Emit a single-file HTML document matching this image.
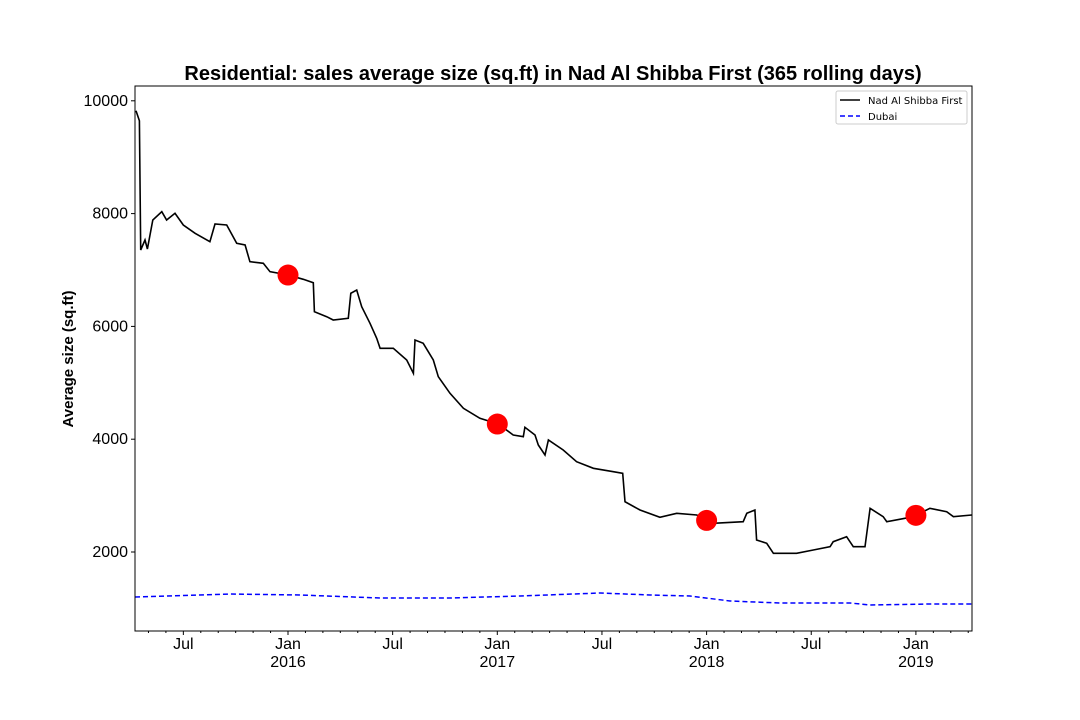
<!DOCTYPE html>
<html><head><meta charset="utf-8"><style>
body{margin:0;background:#fff;}
svg{display:block;font-family:"Liberation Sans","DejaVu Sans",sans-serif;}
</style></head><body>
<svg id="chart" width="1080" height="720">
<rect width="1080" height="720" fill="#fff"/>
<text x="553" y="80" text-anchor="middle" font-size="20" font-weight="bold">Residential: sales average size (sq.ft) in Nad Al Shibba First (365 rolling days)</text>
<text transform="translate(73,359) rotate(-90)" text-anchor="middle" font-size="15" font-weight="bold">Average size (sq.ft)</text>
<g id="axes"></g>
<g id="series"></g>
<rect x="135" y="86" width="837" height="545" fill="none" stroke="#000" stroke-width="1"/>
<g font-family="DejaVu Sans, sans-serif">
<rect x="836" y="91" width="131" height="33" rx="2" fill="#fff" stroke="#ccc"/>
<line x1="840" y1="100" x2="860" y2="100" stroke="#000" stroke-width="1.5"/>
<text x="868" y="104" font-size="10">Nad Al Shibba First</text>
<line x1="840" y1="116" x2="860" y2="116" stroke="#00f" stroke-width="1.5" stroke-dasharray="5,3"/>
<text x="868" y="120" font-size="10">Dubai</text>
</g>
</svg>
<script>
const areaYears=[2015.274,2015.290,2015.296,2015.317,2015.328,2015.354,2015.397,2015.420,2015.460,2015.500,2015.556,2015.627,2015.651,2015.707,2015.755,2015.795,2015.818,2015.882,2015.914,2016.001,2016.073,2016.121,2016.126,2016.185,2016.216,2016.288,2016.300,2016.328,2016.352,2016.392,2016.424,2016.440,2016.503,2016.567,2016.599,2016.607,2016.646,2016.694,2016.718,2016.774,2016.838,2016.917,2017.005,2017.076,2017.124,2017.132,2017.180,2017.196,2017.228,2017.244,2017.315,2017.379,2017.459,2017.554,2017.599,2017.610,2017.682,2017.777,2017.857,2017.953,2018.032,2018.175,2018.192,2018.231,2018.239,2018.287,2018.319,2018.430,2018.510,2018.590,2018.605,2018.669,2018.701,2018.757,2018.781,2018.844,2018.861,2018.988,2019.067,2019.147,2019.179,2019.267];
const areaValues=[9824,9647,7354,7532,7372,7886,8034,7886,8005,7798,7650,7502,7815,7798,7473,7443,7147,7119,6970,6911,6835,6775,6260,6172,6113,6143,6587,6645,6350,6055,5789,5612,5612,5404,5168,5759,5700,5404,5108,4813,4548,4370,4269,4074,4044,4211,4074,3897,3720,3986,3808,3601,3484,3424,3395,2892,2745,2615,2686,2656,2509,2537,2686,2745,2213,2154,1977,1977,2035,2094,2183,2271,2094,2094,2774,2626,2537,2626,2774,2715,2626,2656];
const dubaiYears=[2015.269,2015.723,2016.057,2016.440,2016.774,2017.108,2017.491,2017.730,2017.921,2018.112,2018.351,2018.685,2018.781,2019.067,2019.268];
const dubaiValues=[1202,1255,1238,1184,1184,1220,1273,1238,1220,1131,1096,1096,1060,1078,1078];
const dotYears=[2016,2017,2018,2019];
const dotValues=[6911,4269,2560,2650];
const yTicks=[2000,4000,6000,8000,10000];
const yearLabels=[2016,2017,2018,2019];
const julLabels=[2015.5,2016.5,2017.5,2018.5];

const X0=135,X1=972,Y0=86,Y1=631;
function xs(yr){return 288+(yr-2016)*209.3;}
function ys(v){return 552-(v-2000)*0.0564;}
const NS='http://www.w3.org/2000/svg';
function mk(tag,attrs,parent,text){const e=document.createElementNS(NS,tag);for(const k in attrs)e.setAttribute(k,attrs[k]);if(text!==undefined)e.textContent=text;parent.appendChild(e);return e;}
const ax=document.getElementById('axes'),se=document.getElementById('series');

yTicks.forEach(v=>{
  const y=ys(v);
  const t=mk('line',{x1:X0-4,x2:X0,y1:y,y2:y,stroke:'#000'},ax);
  
  
  const l=mk('text',{x:X0-7,y:y+5,'text-anchor':'end','font-size':16},ax,String(v));
  
  
});
for(let m=4;m<=4+48;m++){
  const yr=2015+(m-1)/12;
  const x=xs(yr);
  if(x<X0-0.5||x>X1+0.5)continue;
  const major=(m-1)%6===0;
  const t=mk('line',{x1:x,x2:x,y1:Y1,y2:Y1+(major?4:2),stroke:'#000'},ax);
  
  
}
yearLabels.forEach(yr=>{
  const x=xs(yr);
  const a=mk('text',{x:x,y:649,'text-anchor':'middle','font-size':16},ax,'Jan');
  
  
  const b=mk('text',{x:x,y:667,'text-anchor':'middle','font-size':16},ax,String(yr));
  
  
});
julLabels.forEach(yr=>{
  const l=mk('text',{x:xs(yr),y:649,'text-anchor':'middle','font-size':16},ax,'Jul');
  
  
});

const dp=dubaiYears.map((y,i)=>xs(y).toFixed(1)+','+ys(dubaiValues[i]).toFixed(1)).join(' ');
const dl=mk('polyline',{points:dp,fill:'none',stroke:'#00f','stroke-width':1.5,'stroke-dasharray':'5,3'},se);



const ap=areaYears.map((y,i)=>xs(y).toFixed(1)+','+ys(areaValues[i]).toFixed(1)).join(' ');
const al=mk('polyline',{points:ap,fill:'none',stroke:'#000','stroke-width':1.6},se);



dotYears.forEach((yr,i)=>{
  const c=mk('circle',{cx:xs(yr),cy:ys(dotValues[i]),r:10.5,fill:'#ff0000'},se);
  
  
});
</script>
</body></html>
